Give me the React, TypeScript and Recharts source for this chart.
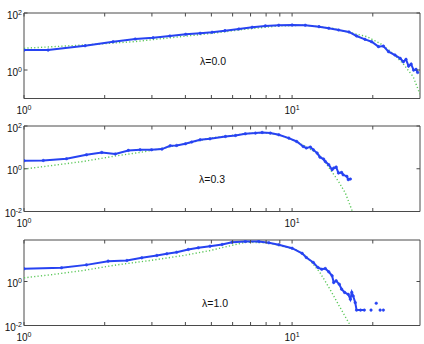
import React from 'react';
import { LineChart, Line, XAxis, YAxis, ReferenceArea } from 'recharts';

const BLUE = '#2743f2';
const GREEN = '#5cc85a';
const FRAME = '#4a4a4a';
const FONT = '"Liberation Sans", Arial, Helvetica, sans-serif';

const W = 424;
const H = 117.5;
const PLOT_TOP = 10;
const PLOT_RIGHT = 420;
const TICK = 3.5;

const xTicks = [1, 2, 3, 4, 5, 6, 7, 8, 9, 10, 20];

// lambda = 0.0
const p1BlueX = [1, 1.23, 1.69, 2.15, 2.6, 3.03, 3.5, 4.01, 4.54, 5.03, 5.62, 6.33, 7.1, 7.95, 8.92, 10, 11.2, 12.6, 13.7, 14.9, 16.3, 17.4, 18.7, 19.8, 21.0, 21.9, 22.9, 24.2, 25.3, 26.0, 26.6, 27.2, 27.8, 28.4, 29.0, 29.4];
const p1BlueY = [5.0, 5.0, 7.1, 9.8, 12.2, 13.6, 15.6, 17.9, 19.4, 21.1, 24.0, 27.5, 31.6, 35.2, 37.2, 38.1, 37.2, 33.2, 29.2, 25.4, 21.6, 15.6, 11.9, 9.8, 6.6, 6.9, 4.4, 3.35, 2.56, 1.94, 2.36, 1.37, 1.61, 0.99, 1.05, 0.82];
const p1GreenX = [1, 1.66, 2.55, 4.06, 5.03, 6.68, 8.94, 11.2, 14.1, 16.9, 19.0, 21.3, 23.8, 25.9, 28.3, 30];
const p1GreenY = [5.8, 7.5, 9.8, 15.6, 19.4, 26.9, 35.2, 37.2, 29.2, 19.4, 14.8, 8.6, 3.8, 1.7, 0.58, 0.14];

// lambda = 0.3
const p2BlueX = [1, 1.18, 1.44, 1.71, 1.95, 2.19, 2.45, 2.71, 2.99, 3.27, 3.51, 3.71, 4.0, 4.22, 4.54, 4.94, 5.64, 6.15, 6.69, 7.3, 7.73, 8.3, 8.92, 9.72, 10.4, 11.0, 11.3, 11.7, 12.0, 12.4, 12.7, 13.1, 13.3, 13.7, 14.1, 14.3, 14.6, 14.9, 15.3, 15.5, 16.0, 16.2, 16.5];
const p2BlueY = [2.37, 2.44, 2.93, 4.5, 5.8, 4.9, 7.2, 7.7, 7.7, 8.3, 11.9, 12.3, 14.7, 17.7, 22.6, 25.2, 32.3, 36, 43.2, 46.5, 49.7, 46.5, 38.8, 27.2, 18.9, 11.0, 9.3, 10.3, 7.7, 5.4, 3.5, 2.84, 2.19, 1.54, 0.9, 1.08, 1.2, 0.63, 0.67, 0.52, 0.44, 0.31, 0.33];
const p2GreenX = [1, 1.25, 1.66, 2.22, 2.71, 3.22, 3.82, 4.54, 4.94, 6.69, 7.73, 8.92, 10.4, 12.4, 13.1, 13.9, 14.9, 15.8, 16.7, 17];
const p2GreenY = [0.97, 1.38, 2.19, 4.05, 5.8, 8.6, 13.2, 21.0, 27.2, 43.2, 49.7, 38.8, 18.9, 5.4, 2.6, 0.9, 0.255, 0.073, 0.012, 0.008];

// lambda = 1.0 (null = empty bin, leaves a gap)
const p3BlueX = [1, 1.38, 1.71, 2.06, 2.42, 2.75, 3.13, 3.41, 3.71, 4.1, 4.47, 4.94, 5.48, 5.97, 6.69, 7.51, 8.19, 8.92, 10, 10.9, 11.3, 12.0, 12.5, 12.9, 13.3, 13.7, 14.1, 14.3, 14.6, 15.0, 15.3, 15.7, 16.2, 16.5, 16.7, 16.9, 17.2, 17.4, 18.0, 18.6, 19.1, 19.7, 20.2, 20.6, 21.0, 21.3, 21.6, 21.9];
const p3BlueY = [3.78, 4.2, 5.7, 8.4, 9.0, 11.9, 15.2, 18.2, 21.5, 28.5, 34.0, 40.3, 48, 61, 65.8, 65.8, 57.4, 46.6, 32.6, 19, 12.3, 7.3, 4.3, 3.6, 3.9, 2.76, 1.82, 0.9, 1.08, 0.75, 0.45, 0.32, 0.26, 0.157, 0.32, 0.22, 0.11, 0.05, 0.05, 0.05, null, 0.05, null, 0.103, null, 0.05, null, 0.05];
const p3GreenX = [1, 1.25, 1.66, 2.22, 2.95, 3.93, 4.94, 6.69, 8.19, 10.3, 11.2, 12.0, 12.7, 13.5, 14.3, 15.1, 16.0, 16.5];
const p3GreenY = [1.47, 2.0, 3.16, 5.7, 9.0, 15.2, 25.6, 61, 57.4, 28.5, 15.2, 6.1, 2.56, 0.75, 0.22, 0.066, 0.019, 0.01];

const pairs = (xs: number[], ys: (number | null)[]) => xs.map((x, i) => ({ x, y: ys[i] }));

const panels = [
  { label: 'λ=0.0', top: 3, yDomain: [0.1, 100], yTicks: [1, 100], blue: pairs(p1BlueX, p1BlueY), green: pairs(p1GreenX, p1GreenY), lx: 213, ly: 60.5 },
  { label: 'λ=0.3', top: 116, yDomain: [0.01, 100], yTicks: [0.01, 1, 100], blue: pairs(p2BlueX, p2BlueY), green: pairs(p2GreenX, p2GreenY), lx: 212, ly: 179 },
  { label: 'λ=1.0', top: 229.5, yDomain: [0.01, 77], yTicks: [0.01, 1], blue: pairs(p3BlueX, p3BlueY), green: pairs(p3GreenX, p3GreenY), lx: 215, ly: 303 },
];

function XTick(props: any) {
  const { x, y, payload } = props;
  const v = payload.value;
  const exp = v === 1 ? '0' : v === 10 ? '1' : '';
  return (
    <g>
      <line x1={x} y1={y} x2={x} y2={y - TICK} stroke={FRAME} />
      <line x1={x} y1={PLOT_TOP} x2={x} y2={PLOT_TOP + TICK} stroke={FRAME} />
      {exp && (
        <text x={x} y={y + 15} textAnchor="middle" fontSize={10} fill="#111" fontFamily={FONT}>
          10<tspan dy={-4} fontSize={7}>{exp}</tspan>
        </text>
      )}
    </g>
  );
}

function YTick(props: any) {
  const { x, y, payload } = props;
  const e = Math.round(Math.log10(payload.value));
  return (
    <g>
      <line x1={x} y1={y} x2={x + TICK} y2={y} stroke={FRAME} />
      <line x1={PLOT_RIGHT - TICK} y1={y} x2={PLOT_RIGHT} y2={y} stroke={FRAME} />
      <text x={x - 2} y={y + 5.5} textAnchor="end" fontSize={10} fill="#111" fontFamily={FONT}>
        10<tspan dy={-4} fontSize={7}>{String(e)}</tspan>
      </text>
    </g>
  );
}

function Panel({ p }: { p: (typeof panels)[number] }) {
  return (
    <div style={{ position: 'absolute', left: 0, top: p.top, width: W, height: H }}>
      <LineChart width={W} height={H} margin={{ top: PLOT_TOP, right: W - PLOT_RIGHT, bottom: 0, left: 0 }}>
        <XAxis
          dataKey="x"
          type="number"
          scale="log"
          domain={[1, 30]}
          allowDataOverflow
          ticks={xTicks}
          interval={0}
          height={22}
          axisLine={false}
          tickLine={false}
          tickSize={0}
          tickMargin={0}
          tick={(t: any) => <XTick {...t} />}
        />
        <YAxis
          type="number"
          scale="log"
          domain={p.yDomain}
          allowDataOverflow
          ticks={p.yTicks}
          interval={0}
          width={24}
          axisLine={false}
          tickLine={false}
          tickSize={0}
          tickMargin={0}
          tick={(t: any) => <YTick {...t} />}
        />
        <ReferenceArea x1={1} x2={30} y1={p.yDomain[0]} y2={p.yDomain[1]} fill="none" stroke={FRAME} strokeWidth={1} />
        <Line
          data={p.green}
          dataKey="y"
          type="linear"
          stroke={GREEN}
          strokeWidth={1.4}
          strokeDasharray="1.2 2.2"
          dot={false}
          activeDot={false}
          isAnimationActive={false}
        />
        <Line
          data={p.blue}
          dataKey="y"
          type="linear"
          stroke={BLUE}
          strokeWidth={2}
          dot={{ r: 1.3, fill: BLUE, stroke: BLUE, strokeWidth: 0.5 }}
          activeDot={false}
          isAnimationActive={false}
        />
      </LineChart>
      <div
        style={{
          position: 'absolute',
          left: p.lx - 30,
          top: p.ly - p.top - 7,
          width: 60,
          textAlign: 'center',
          fontFamily: FONT,
          fontSize: 10.5,
          lineHeight: '14px',
          color: '#111',
        }}
      >
        {p.label}
      </div>
    </div>
  );
}

export default function App() {
  return (
    <div style={{ position: 'absolute', left: 0, top: 0, width: W, height: 344, background: '#fff' }}>
      {panels.map((p) => (
        <Panel key={p.label} p={p} />
      ))}
    </div>
  );
}
